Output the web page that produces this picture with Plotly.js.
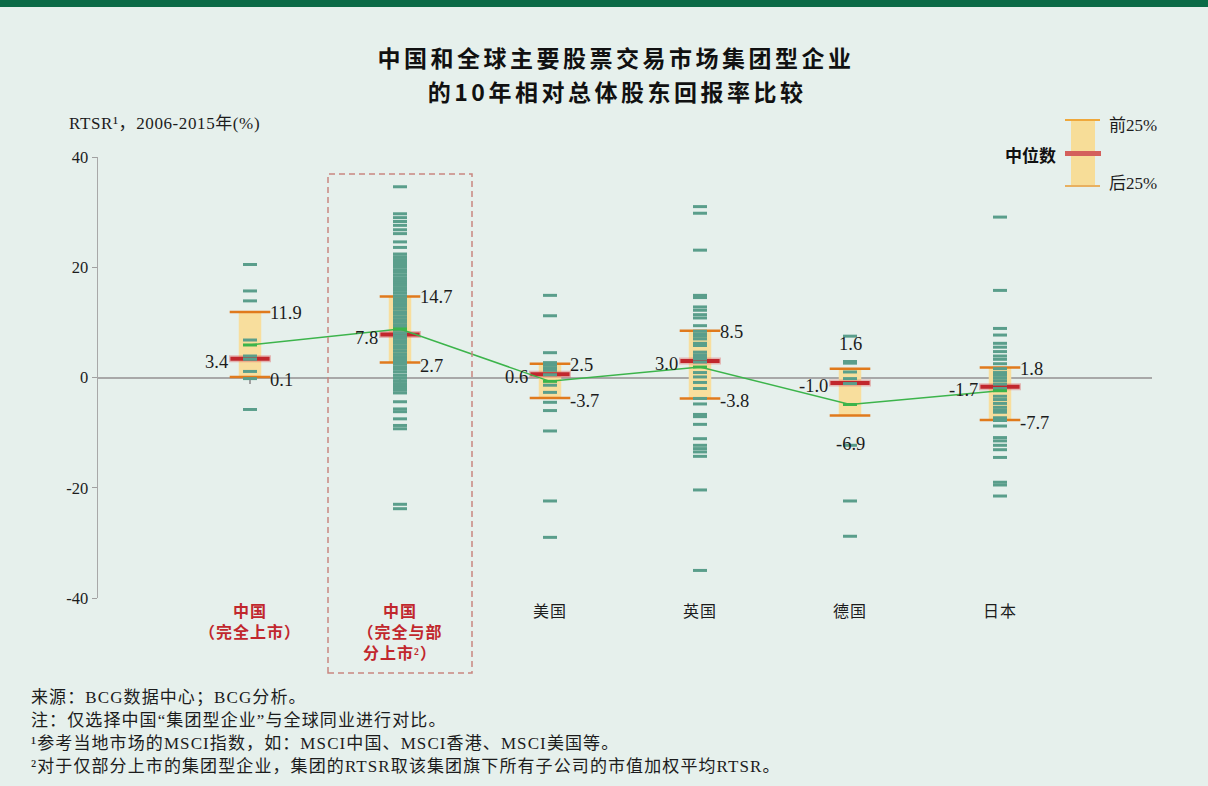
<!DOCTYPE html>
<html><head><meta charset="utf-8">
<script src="https://cdn.plot.ly/plotly-3.0.1.min.js"></script>
<style>
html,body{margin:0;padding:0;background:#e6f0ec;overflow:hidden;}
*{text-spacing-trim:space-all;}
#stripe{position:absolute;left:0;top:0;width:1208px;height:7px;background:#0b6b47;z-index:5;}
#chart{width:1208px;height:786px;}
.gtitle{letter-spacing:3.5px;}
.xtick text{letter-spacing:1px;}
</style></head><body>
<div id="stripe"></div><div id="chart"></div>
<script>
// ---------- data ----------
const categories = ['中国（完全上市）', '中国（完全与部分上市）', '美国', '英国', '德国', '日本'];
const tickLines = [['中国', '（完全上市）'], ['中国', '（完全与部', '分上市²）'], ['美国'], ['英国'], ['德国'], ['日本']];
const q3 = [11.9, 14.7, 2.5, 8.5, 1.6, 1.8];
const medians = [3.4, 7.8, 0.6, 3.0, -1.0, -1.7];
const q1 = [0.1, 2.7, -3.7, -3.8, -6.9, -7.7];
const means = [5.9, 8.8, -0.7, 1.9, -4.9, -2.4];

const chinaFull = [20.5, 15.7, 13.9, 6.8, 3.9, 3.3, 1.1, -0.2, -5.8];
const chinaPartial = [34.6, 29.7, 29.0, 28.3, 27.6, 26.8, 26.1, 24.6, 23.6,
  22.4, 21.9, 21.4, 20.9, 20.5, 20.0, 19.5, 19.1,
  18.6, 18.1, 17.6, 17.2, 16.7, 16.2, 15.8, 15.3, 14.8, 14.3, 13.8, 13.4, 12.9, 12.4, 11.9, 11.5, 11.0,
  10.5, 10.0,
  9.5, 9.1, 8.6, 8.1, 7.6, 7.2, 6.7, 6.2, 5.7, 5.3, 4.8, 4.3, 3.8, 3.4, 2.9, 2.4, 1.9, 1.5, 1.0,
  0.4, -0.1, -0.6, -1.1, -1.6, -1.9, -2.3, -2.8, -4.4, -5.7, -6.2, -7.5, -8.7, -9.3, -23.0, -23.8];
const usa = [14.9, 11.2, 4.5, 2.7, 2.2, 1.7, 1.3, 0.5, -1.4, -2.7, -4.5, -6.0, -9.7, -22.4, -29.0];
const uk = [31.0, 29.8, 23.1, 14.9, 14.5, 12.8, 12.2, 11.4, 10.8, 9.4, 8.4, 7.9, 7.5, 7.0, 6.2, 5.8, 4.6, 4.1,
  3.7, 3.4, 2.8, 0.9, 0.1, -0.9, -2.0, -3.8, -4.8, -6.7, -7.1, -8.5, -11.1, -12.3, -12.9, -13.5, -14.3, -20.4, -35.0];
const germany = [7.5, 2.9, 2.6, 1.0, -0.2, -1.1, -12.3, -22.4, -28.8];
const japan = [29.1, 15.8, 8.9, 7.7, 6.2, 5.5, 4.7, 3.9, 3.3, 2.5, 1.6, 0.9, 0.4, -0.1, -0.6, -1.2, -2.0,
  -3.4, -4.0, -4.7, -5.4, -5.9, -6.3, -7.3, -7.8, -8.8, -10.9, -11.5, -12.3, -13.1, -14.5, -19.0, -19.5, -21.5];
const companyValues = [chinaFull, chinaPartial, usa, uk, germany, japan];
const yTicks = [-40, -20, 0, 20, 40];

const titleLines = ['中国和全球主要股票交易市场集团型企业', '的10年相对总体股东回报率比较'];
const yTitle = 'RTSR¹，2006-2015年(%)';
const footnotes = [
  '来源：BCG数据中心；BCG分析。',
  '注：仅选择中国“集团型企业”与全球同业进行对比。',
  '¹参考当地市场的MSCI指数，如：MSCI中国、MSCI香港、MSCI美国等。',
  '²对于仅部分上市的集团型企业，集团的RTSR取该集团旗下所有子公司的市值加权平均RTSR。'
];
const legendTexts = {top: '前25%', mid: '中位数', bottom: '后25%'};

// ---------- styling ----------
const SERIF = '"Liberation Serif", "Noto Sans CJK SC", serif';
const CJK = '"Noto Sans CJK SC", "Liberation Serif", sans-serif';
const RED = '#c1272d';
const TEAL = '#5a9e8b';
const ORANGE = '#e07a1c';
const BOX = '#f8de9d';
const GREEN = '#3cb44b';
const TXT = '#1c1c1c';

const L = 98, T = 157, W = 1054, H = 441;
const px2x = p => (p - L) / W;
const py2y = p => (T + H - p) / H;

const idx = categories.map((c, i) => i);
const highlighted = i => i < 2;

const tickText = tickLines.map((lines, i) => highlighted(i)
  ? lines.map(s => '<span style="color:' + RED + '"><b>' + s + '</b></span>').join('<br>')
  : lines.join('<br>'));

const traces = [];
traces.push({type: 'bar', x: idx, base: q1, y: q3.map((v, i) => v - q1[i]), width: 0.15,
  marker: {color: BOX, line: {width: 0}}, hoverinfo: 'skip'});
traces.push({type: 'scatter', mode: 'markers', x: idx.concat(idx), y: q3.concat(q1),
  marker: {symbol: 'line-ew', size: 29, line: {width: 2.5, color: ORANGE}}, hoverinfo: 'skip'});
traces.push({type: 'scatter', mode: 'markers', x: idx, y: medians,
  marker: {symbol: 'line-ew', size: 30, line: {width: 7, color: 'rgba(225,110,110,0.45)'}}, hoverinfo: 'skip'});
traces.push({type: 'scatter', mode: 'markers', x: idx, y: medians,
  marker: {symbol: 'line-ew', size: 28, line: {width: 4, color: RED}}, hoverinfo: 'skip'});
companyValues.forEach((vals, i) => {
  traces.push({type: 'scatter', mode: 'markers', x: vals.map(() => i), y: vals,
    marker: {symbol: 'line-ew', size: 10, line: {width: 3, color: TEAL}}, hoverinfo: 'skip'});
});
traces.push({type: 'scatter', mode: 'lines+markers', x: idx, y: means,
  line: {color: GREEN, width: 1.5},
  marker: {symbol: 'line-ew', size: 10, line: {width: 3, color: GREEN}}, hoverinfo: 'skip'});

const annotations = [];
const labelFont = {family: SERIF, size: 18.5, color: TXT};
categories.forEach((c, i) => {
  const stacked = c === '德国';
  if (stacked) {
    annotations.push({x: i, y: q3[i], xref: 'x', yref: 'y', text: q3[i].toFixed(1), showarrow: false,
      xanchor: 'center', yanchor: 'middle', yshift: 25, font: labelFont});
    annotations.push({x: i, y: q1[i], xref: 'x', yref: 'y', text: q1[i].toFixed(1), showarrow: false,
      xanchor: 'center', yanchor: 'middle', yshift: -28, font: labelFont});
  } else {
    annotations.push({x: i, y: q3[i], xref: 'x', yref: 'y', text: q3[i].toFixed(1), showarrow: false,
      xanchor: 'left', yanchor: 'middle', xshift: 18, yshift: -1, font: labelFont});
    annotations.push({x: i, y: q1[i], xref: 'x', yref: 'y', text: q1[i].toFixed(1), showarrow: false,
      xanchor: 'left', yanchor: 'middle', xshift: 18, yshift: -3, font: labelFont});
  }
  annotations.push({x: i, y: medians[i], xref: 'x', yref: 'y', text: medians[i].toFixed(1), showarrow: false,
    xanchor: 'right', yanchor: 'middle', xshift: -20, yshift: -3, font: labelFont});
});
const spaced = [];
spaced.push([annotations.length, 0.6]);
annotations.push({xref: 'paper', yref: 'paper', x: px2x(67), y: py2y(124), xanchor: 'left', yanchor: 'middle', align: 'left',
  text: yTitle, showarrow: false, font: {family: SERIF, size: 17, color: TXT}});
footnotes.forEach((f, k) => {
  spaced.push([annotations.length, 1.1]);
  annotations.push({xref: 'paper', yref: 'paper', x: px2x(29), y: py2y(697 + 23 * k), xanchor: 'left', yanchor: 'middle', align: 'left',
    text: f, showarrow: false, font: {family: SERIF, size: 17, color: TXT}});
});
annotations.push({xref: 'paper', yref: 'paper', x: px2x(1107), y: py2y(125), xanchor: 'left', yanchor: 'middle',
  text: legendTexts.top, showarrow: false, font: {family: SERIF, size: 17, color: TXT}});
annotations.push({xref: 'paper', yref: 'paper', x: px2x(1107), y: py2y(184), xanchor: 'left', yanchor: 'middle',
  text: legendTexts.bottom, showarrow: false, font: {family: SERIF, size: 17, color: TXT}});
annotations.push({xref: 'paper', yref: 'paper', x: px2x(1058), y: py2y(155), xanchor: 'right', yanchor: 'middle',
  text: '<b>' + legendTexts.mid + '</b>', showarrow: false, font: {family: CJK, size: 17, color: '#111'}});
spaced.push([annotations.length, 3.5]);
annotations.push({xref: 'paper', yref: 'paper', x: px2x(617), y: py2y(91), xanchor: 'center', yanchor: 'middle',
  text: '<b>' + titleLines[1] + '</b>', showarrow: false, font: {family: CJK, size: 23, color: '#111'}});

const shapes = [
  {type: 'rect', xref: 'x', yref: 'paper', x0: 0.52, x1: 1.48, y0: py2y(673), y1: py2y(174),
    line: {color: '#c98680', width: 1.5, dash: '6px,4px'}, fillcolor: 'rgba(0,0,0,0)'},
  {type: 'rect', xref: 'paper', yref: 'paper', x0: px2x(1071), x1: px2x(1095), y0: py2y(186), y1: py2y(120),
    line: {width: 0}, fillcolor: '#f7dd98'},
  {type: 'line', xref: 'paper', yref: 'paper', x0: px2x(1065), x1: px2x(1100), y0: py2y(120), y1: py2y(120),
    line: {color: '#efa83c', width: 2}},
  {type: 'line', xref: 'paper', yref: 'paper', x0: px2x(1065), x1: px2x(1100), y0: py2y(186), y1: py2y(186),
    line: {color: '#e8b060', width: 2}},
  {type: 'line', xref: 'paper', yref: 'paper', x0: px2x(1065), x1: px2x(1101), y0: py2y(153.5), y1: py2y(153.5),
    line: {color: '#d4605c', width: 5}}
];

const xr = [-1.0133, 6.0133];
const layout = {
  width: 1208, height: 786,
  margin: {l: L, r: 1208 - L - W, t: T, b: 786 - T - H, pad: 0},
  paper_bgcolor: '#e6f0ec', plot_bgcolor: '#e6f0ec',
  showlegend: false,
  barmode: 'overlay',
  title: {text: titleLines[0], x: 616 / 1208, xanchor: 'center', xref: 'container', y: 1 - 59 / 786, yanchor: 'middle', yref: 'container',
    font: {family: CJK, size: 23, color: '#111', weight: 'bold'}},
  xaxis: {range: xr, tickvals: idx, ticktext: tickText, showgrid: false, zeroline: false, showline: false,
    ticks: '', tickfont: {family: SERIF, size: 16, color: TXT}, fixedrange: true, ticklabelstandoff: 2},
  xaxis2: {range: xr, overlaying: 'x', anchor: 'free', position: 0.5, tickvals: idx, showticklabels: false,
    ticks: 'outside', ticklen: 5, tickcolor: '#a0a0a0', tickwidth: 1.2, showline: true, linecolor: '#a8a8a8', linewidth: 2,
    showgrid: false, zeroline: false, side: 'bottom', layer: 'below traces'},
  yaxis: {range: [-40, 40], tickvals: yTicks, ticktext: yTicks.map(String), showgrid: false, zeroline: false,
    showline: true, linecolor: '#a8a8a8', linewidth: 1.5, ticks: 'outside', ticklen: 5, tickcolor: '#a0a0a0',
    tickfont: {family: SERIF, size: 16.5, color: TXT}},
  annotations: annotations,
  shapes: shapes
};
traces.push({type: 'scatter', x: [xr[0]], y: [0], xaxis: 'x2', mode: 'markers', marker: {opacity: 0}, hoverinfo: 'skip'});
Plotly.newPlot('chart', traces, layout, {displayModeBar: false, staticPlot: true}).then(() => {
  spaced.forEach(([k, s]) => {
    const g = document.querySelector('#chart .annotation[data-index="' + k + '"] text');
    if (g) g.style.letterSpacing = s + 'px';
  });
});
</script></body></html>
